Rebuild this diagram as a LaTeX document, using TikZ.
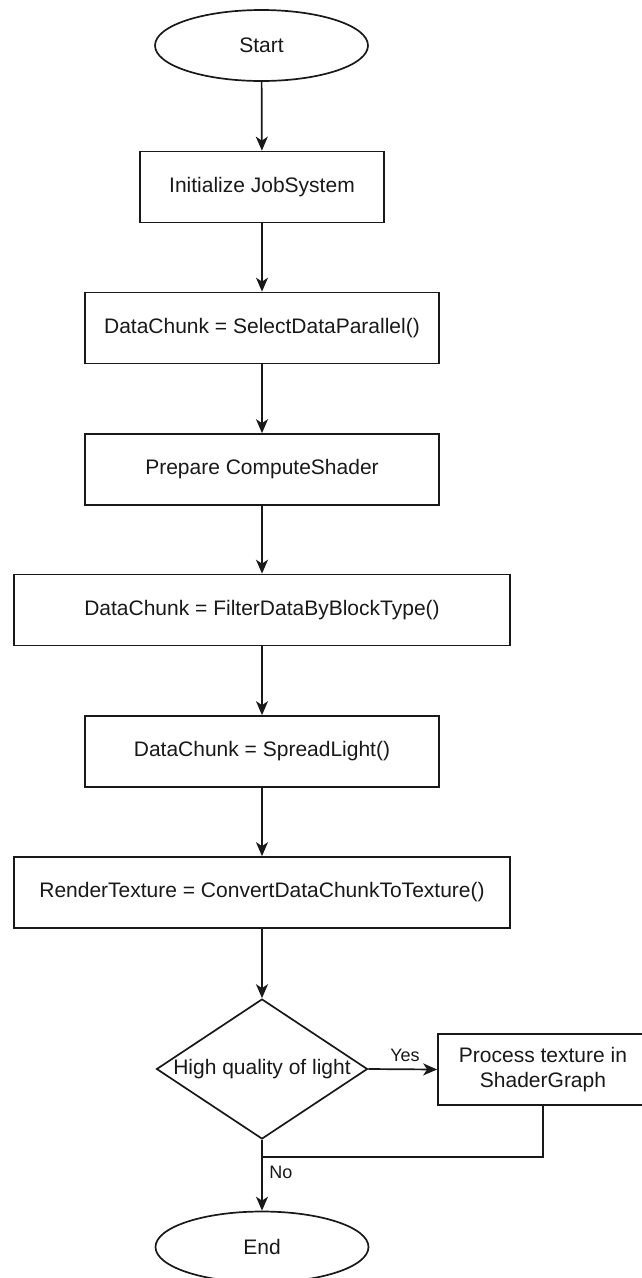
\documentclass[tikz,border=0pt]{standalone}
\usepackage{fontspec}
\setmainfont{Liberation Sans}
\usetikzlibrary{shapes.geometric,arrows.meta}
\begin{document}
\begin{tikzpicture}[x=1pt,y=-1pt,
  every node/.style={font=\fontsize{21}{25}\selectfont, text=black!90},
  flow/.style={draw=black!90, line width=1.7pt},
  stepbox/.style={flow, rectangle, inner sep=0pt, minimum height=71pt},
  terminal/.style={flow, ellipse, inner sep=0pt, minimum width=213pt, minimum height=71pt},
  decision/.style={flow, diamond, inner sep=0pt, minimum width=211pt, minimum height=140pt},
  link/.style={draw=black!90, line width=1.7pt, -{Stealth[length=14pt,width=12pt,inset=4pt]}},
  edgelabel/.style={font=\fontsize{18}{21}\selectfont}
]
\useasboundingbox (0,0) rectangle (642,1278);
\fill[white] (0,0) rectangle (642,1278);

\node[terminal] (start) at (261.5,45.5) {Start};
\node[stepbox, minimum width=244pt] (init) at (262,187) {Initialize JobSystem};
\node[stepbox, minimum width=354pt] (sel) at (262,328) {DataChunk = SelectDataParallel()};
\node[stepbox, minimum width=354pt] (prep) at (262,469.5) {Prepare ComputeShader};
\node[stepbox, minimum width=496pt] (filt) at (262,610) {DataChunk = FilterDataByBlockType()};
\node[stepbox, minimum width=354pt] (spread) at (262,751.5) {DataChunk = SpreadLight()};
\node[stepbox, minimum width=496pt] (render) at (262,892.5) {RenderTexture = ConvertDataChunkToTexture()};
\node[decision] (dec) at (262,1069) {};
\node (dectext) at (dec.center) {High quality of light};
\node[stepbox, minimum width=210pt, align=center] (proc) at (543,1069.5) {Process texture in\\ShaderGraph};
\node[terminal] (end) at (262,1247) {End};
\coordinate (join) at (262,1157);

\draw[link] (start) -- (init);
\draw[link] (init) -- (sel);
\draw[link] (sel) -- (prep);
\draw[link] (prep) -- (filt);
\draw[link] (filt) -- (spread);
\draw[link] (spread) -- (render);
\draw[link] (render) -- (dec);
\draw[link] (dec.east) -- (proc.west);
\node[edgelabel] (yes) at (405,1055) {Yes};
\draw[link] (dec.south) -- (end.north);
\draw[flow] (proc.south) |- (join);
\node[edgelabel] (no) at (281,1172) {No};
\end{tikzpicture}
\end{document}
